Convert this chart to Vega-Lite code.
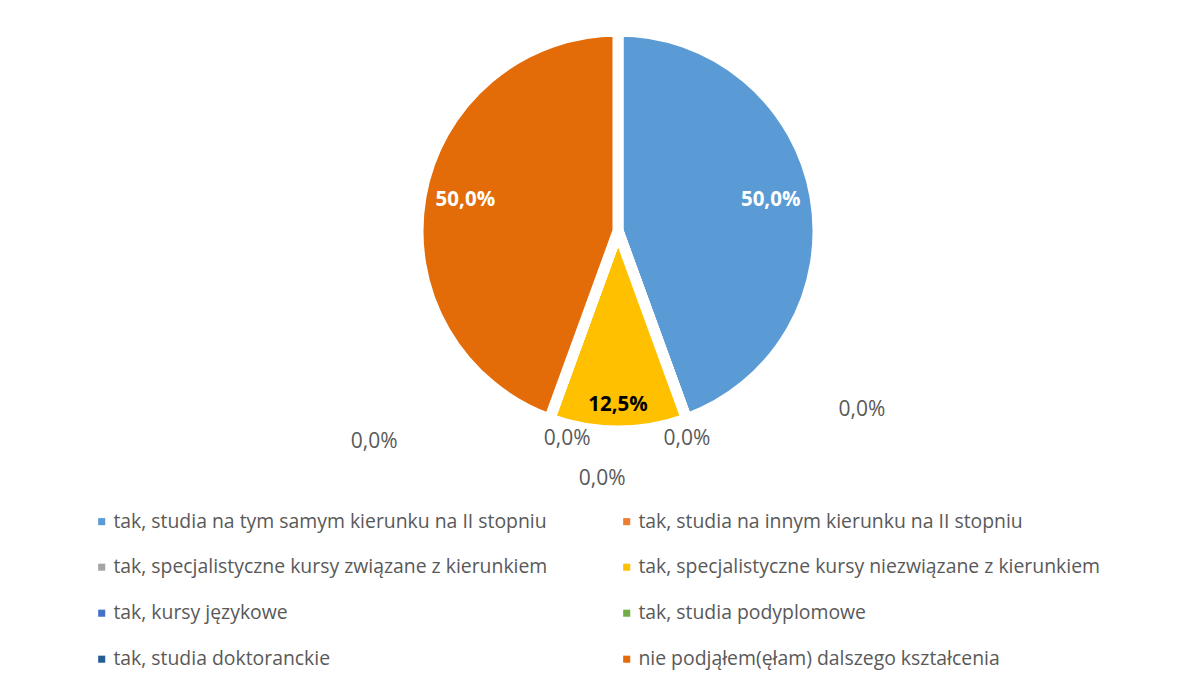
{
  "$schema": "https://vega.github.io/schema/vega-lite/v6.json",
  "autosize": "none",
  "width": 1170,
  "height": 462,
  "padding": {"left": 33, "top": 0, "right": 0, "bottom": 223},
  "background": "white",
  "config": {
    "view": {"stroke": null},
    "locale": {"number": {"decimal": ",", "thousands": " ", "grouping": [3], "currency": ["", " zł"]}},
    "text": {"font": "Open Sans"}
  },
  "data": {
    "values": [
      {"nr": 1, "kategoria": "tak, studia na tym samym kierunku na II stopniu", "value": 0.5},
      {"nr": 2, "kategoria": "tak, studia na innym kierunku na II stopniu", "value": 0},
      {"nr": 3, "kategoria": "tak, specjalistyczne kursy związane z kierunkiem", "value": 0},
      {"nr": 4, "kategoria": "tak, specjalistyczne kursy niezwiązane z kierunkiem", "value": 0.125},
      {"nr": 5, "kategoria": "tak, kursy językowe", "value": 0},
      {"nr": 6, "kategoria": "tak, studia podyplomowe", "value": 0},
      {"nr": 7, "kategoria": "tak, studia doktoranckie", "value": 0},
      {"nr": 8, "kategoria": "nie podjąłem(ęłam) dalszego kształcenia", "value": 0.5}
    ]
  },
  "encoding": {
    "theta": {"field": "value", "type": "quantitative", "stack": true},
    "order": {"field": "nr", "type": "quantitative"}
  },
  "layer": [
    {
      "mark": {"type": "arc", "outerRadius": 200, "stroke": "white", "strokeWidth": 11},
      "encoding": {
        "color": {
          "field": "kategoria",
          "type": "nominal",
          "scale": {
            "domain": [
              "tak, studia na tym samym kierunku na II stopniu",
              "tak, studia na innym kierunku na II stopniu",
              "tak, specjalistyczne kursy związane z kierunkiem",
              "tak, specjalistyczne kursy niezwiązane z kierunkiem",
              "tak, kursy językowe",
              "tak, studia podyplomowe",
              "tak, studia doktoranckie",
              "nie podjąłem(ęłam) dalszego kształcenia"
            ],
            "range": ["#5B9BD5", "#ED7D31", "#A5A5A5", "#FFC000", "#4472C4", "#70AD47", "#255E91", "#E36C09"]
          },
          "legend": {
            "title": null,
            "orient": "none",
            "legendX": 59,
            "legendY": 511.5,
            "direction": "horizontal",
            "columns": 2,
            "columnPadding": 69,
            "rowPadding": 25,
            "padding": 0,
            "symbolType": "square",
            "symbolSize": 50,
            "symbolStrokeWidth": 0,
            "symbolOffset": 0,
            "labelOffset": 2,
            "labelFont": "Open Sans",
            "labelFontSize": 19.4,
            "labelColor": "#595959",
            "labelLimit": 700,
            "encode": {"symbols": {"update": {"stroke": {"value": "transparent"}, "strokeWidth": {"value": 0}}}}
          }
        }
      }
    },
    {
      "mark": {"type": "text", "radius": 155, "dy": -4, "fontWeight": "bold", "fontSize": 20.5, "fill": "white", "align": "center", "baseline": "middle"},
      "encoding": {"text": {"condition": {"test": "datum.value == 0.5", "field": "value", "format": ".1%"}, "value": ""}}
    },
    {
      "mark": {"type": "text", "radius": 174, "fontWeight": "bold", "fontSize": 20.5, "fill": "black", "align": "center", "baseline": "middle"},
      "encoding": {"text": {"condition": {"test": "datum.nr == 4", "field": "value", "format": ".1%"}, "value": ""}}
    },
    {
      "mark": {"type": "text", "radius": 219, "dx": 169, "dy": -27, "fontSize": 21, "fill": "#595959", "align": "center", "baseline": "middle"},
      "encoding": {"text": {"condition": {"test": "datum.nr == 2", "field": "value", "format": ".1%"}, "value": ""}}
    },
    {
      "mark": {"type": "text", "radius": 219, "dx": -6, "dy": 2, "fontSize": 21, "fill": "#595959", "align": "center", "baseline": "middle"},
      "encoding": {"text": {"condition": {"test": "datum.nr == 3", "field": "value", "format": ".1%"}, "value": ""}}
    },
    {
      "mark": {"type": "text", "radius": 219, "dx": 24, "dy": 2, "fontSize": 21, "fill": "#595959", "align": "center", "baseline": "middle"},
      "encoding": {"text": {"condition": {"test": "datum.nr == 5", "field": "value", "format": ".1%"}, "value": ""}}
    },
    {
      "mark": {"type": "text", "radius": 219, "dx": 59, "dy": 42, "fontSize": 21, "fill": "#595959", "align": "center", "baseline": "middle"},
      "encoding": {"text": {"condition": {"test": "datum.nr == 6", "field": "value", "format": ".1%"}, "value": ""}}
    },
    {
      "mark": {"type": "text", "radius": 219, "dx": -169, "dy": 5, "fontSize": 21, "fill": "#595959", "align": "center", "baseline": "middle"},
      "encoding": {"text": {"condition": {"test": "datum.nr == 7", "field": "value", "format": ".1%"}, "value": ""}}
    }
  ]
}
